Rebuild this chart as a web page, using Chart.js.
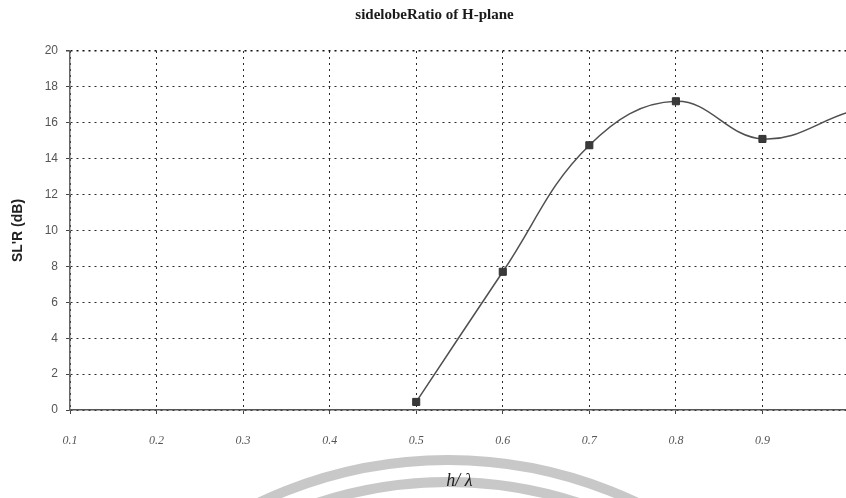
<!DOCTYPE html>
<html>
<head>
<meta charset="utf-8">
<script src="https://cdn.jsdelivr.net/npm/chart.js@4/dist/chart.umd.min.js"></script>
<style>
    html, body { margin: 0; padding: 0; background: #fff; overflow: hidden; }
    #wrap { width: 869px; height: 498px; position: relative; }
</style>
</head>
<body>
<div id="wrap"><canvas id="slrChart"></canvas></div>
<script>
// Data
const hOverLambda = [0.5, 0.6, 0.7, 0.8, 0.9, 1.0];
const slrValues = [0.45, 7.7, 14.75, 17.2, 15.1, 16.6];

const xTickMin = 0.1;
const xTickMax = 1.0;
const xTickStep = 0.1;
const yTickMin = 0;
const yTickMax = 20;
const yTickStep = 2;

const titleText = 'sidelobeRatio of H-plane';
const xTitle = 'h/ \u03bb';
const yTitle = "SL'R (dB)";

// grey arcs of the scanned watermark, drawn behind the chart
const watermarkPlugin = {
    id: 'watermark',
    beforeDraw(chart) {
        const ctx = chart.ctx;
        ctx.save();
        ctx.fillStyle = '#fff';
        ctx.fillRect(0, 0, chart.width, chart.height);
        ctx.strokeStyle = '#c8c8c8';
        ctx.lineWidth = 10;
        [440, 418].forEach(r => {
            ctx.beginPath();
            ctx.arc(448, 900, r, Math.PI, 2 * Math.PI);
            ctx.stroke();
        });
        ctx.restore();
    }
};

document.addEventListener('DOMContentLoaded', function() {
    const ctx = document.getElementById('slrChart').getContext('2d');

    new Chart(ctx, {
        type: 'line',
        data: {
            datasets: [{
                label: 'SLR',
                data: hOverLambda.map((x, i) => ({ x: x, y: slrValues[i] })),
                borderColor: '#505050',
                borderWidth: 1.5,
                backgroundColor: '#3a3a3a',
                pointStyle: 'rect',
                // the last point sits past the cut right edge
                pointRadius: c => c.raw && c.raw.x >= xTickMax ? 0 : 5,
                pointBorderColor: '#333',
                pointBorderWidth: 1,
                tension: 0.4,
                fill: false
            }]
        },
        options: {
            responsive: true,
            maintainAspectRatio: false,
            animation: false,
            layout: { padding: 0 },
            plugins: {
                legend: { display: false },
                tooltip: { enabled: false },
                title: {
                    display: true,
                    text: titleText,
                    color: '#1a1a1a',
                    font: { family: 'Liberation Serif', size: 15, weight: 'bold' },
                    padding: { top: 6, bottom: 27 }
                }
            },
            scales: {
                x: {
                    type: 'linear',
                    min: xTickMin,
                    max: xTickMax,
                    afterFit: s => { s.height = 88; },
                    ticks: {
                        stepSize: xTickStep,
                        padding: 20,
                        maxRotation: 0,
                        autoSkip: false,
                        color: '#555',
                        font: { family: 'Liberation Serif', size: 12, style: 'italic' },
                        callback: v => v >= 0.999 ? '' : Number(v).toFixed(1)
                    },
                    grid: {
                        color: '#2a2a2a',
                        lineWidth: 1,
                        tickLength: 4,
                        tickColor: '#444'
                    },
                    border: { display: true, color: '#555', width: 1.5, dash: [2, 4] },
                    title: {
                        display: true,
                        text: xTitle,
                        color: '#222',
                        font: { family: 'Liberation Serif', size: 18, style: 'italic' },
                        padding: { top: 0, bottom: 6 }
                    }
                },
                y: {
                    min: yTickMin,
                    max: yTickMax,
                    afterFit: s => { s.width = 70; },
                    ticks: {
                        stepSize: yTickStep,
                        padding: 8,
                        color: '#555',
                        font: { family: 'Liberation Sans', size: 12 }
                    },
                    grid: {
                        color: c => c.tick && c.tick.value === yTickMax ? '#111' : '#2a2a2a',
                        lineWidth: c => c.tick && c.tick.value === yTickMax ? 1.5 : 1,
                        tickLength: 4,
                        tickColor: '#444'
                    },
                    border: { display: true, color: '#666', width: 1.5, dash: [2, 4] },
                    title: {
                        display: true,
                        text: yTitle,
                        color: '#222',
                        font: { family: 'Liberation Sans', size: 14, weight: 'bold' },
                        padding: { top: 10, bottom: 0 }
                    }
                }
            }
        },
        plugins: [watermarkPlugin]
    });
});
</script>
</body>
</html>
